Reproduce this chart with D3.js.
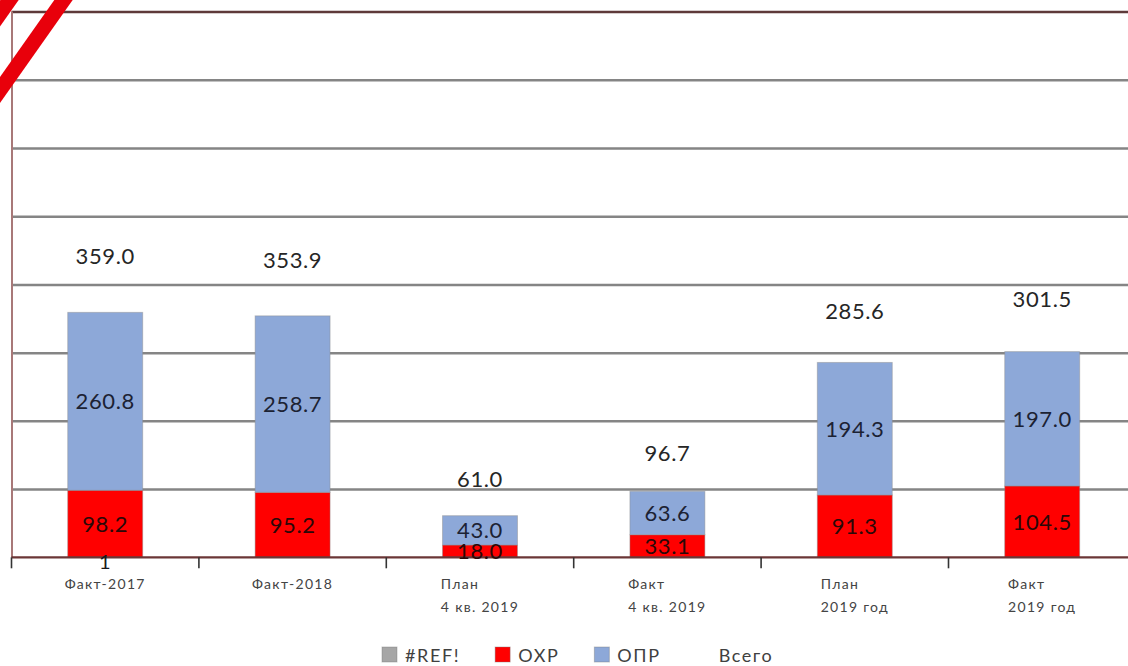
<!DOCTYPE html>
<html><head><meta charset="utf-8">
<script src="https://cdn.jsdelivr.net/npm/d3@7"></script>
<style>
html,body{margin:0;padding:0;background:#fff;}
svg{display:block;}
text{font-family:Lato,"Open Sans",sans-serif;}
</style></head>
<body>
<svg id="chart" width="1128" height="666"></svg>
<script>
const categories = ["Факт-2017", "Факт-2018", "План\n4 кв. 2019", "Факт\n4 кв. 2019", "План\n2019 год", "Факт\n2019 год"];
const oxr = [98.2, 95.2, 18.0, 33.1, 91.3, 104.5];
const opr = [260.8, 258.7, 43.0, 63.6, 194.3, 197.0];
const totals = [359.0, 353.9, 61.0, 96.7, 285.6, 301.5];
const refLabels = ["1", "", "", "", "", ""];
const yTicks = [0, 100, 200, 300, 400, 500, 600, 700, 800];
const legendItems = ["#REF!", "ОХР", "ОПР", "Всего"];
const legendColors = ["#a6a6a6", "#ff0000", "#8da8d8", "none"];

const W = 1128, H = 666;
const svg = d3.select("#chart");

const x = d3.scaleBand().domain(d3.range(categories.length)).range([11.5, 1135.9]).paddingInner(0.6).paddingOuter(0.3);
const y = d3.scaleLinear().domain([0, 800]).range([557.3, 11.5]);

// gridlines
const grid = svg.append("g").attr("transform", "translate(11.5,0)")
  .call(d3.axisLeft(y).tickValues(yTicks.slice(1)).tickSize(-(W - 11.5)).tickFormat(""));
grid.select(".domain").remove();
grid.selectAll(".tick line").attr("stroke", (d) => d === 800 ? "#5e3a3a" : "#858585").attr("stroke-width", 2.5);

// y axis line
svg.append("line").attr("x1", 12).attr("x2", 12).attr("y1", y(800)).attr("y2", y(0))
  .attr("stroke", "#a87878").attr("stroke-width", 2);

// bars
const bars = svg.append("g");
const stackData = categories.map((c, i) => ({i, oxr: oxr[i], opr: opr[i]}));
bars.selectAll("rect.oxr").data(stackData).join("rect").attr("class", "oxr")
  .attr("x", d => x(d.i)).attr("width", x.bandwidth())
  .attr("y", d => y(d.oxr)).attr("height", d => y(0) - y(d.oxr))
  .attr("fill", "#ff0000").attr("stroke", "rgba(140,140,140,0.45)").attr("stroke-width", 1);
bars.selectAll("rect.opr").data(stackData).join("rect").attr("class", "opr")
  .attr("x", d => x(d.i)).attr("width", x.bandwidth())
  .attr("y", d => y(d.oxr + d.opr)).attr("height", d => y(d.oxr) - y(d.oxr + d.opr))
  .attr("fill", "#8da8d8").attr("stroke", "rgba(140,140,140,0.45)").attr("stroke-width", 1);

// x axis line
svg.append("line").attr("x1", 11.5).attr("x2", W).attr("y1", y(0)).attr("y2", y(0))
  .attr("stroke", "#6b3636").attr("stroke-width", 2.2);
// boundary ticks
const step = x.step();
const x0 = x.range()[0];
svg.append("g").selectAll("line").data(d3.range(categories.length + 1)).join("line")
  .attr("x1", k => x0 + k * step).attr("x2", k => x0 + k * step)
  .attr("y1", y(0)).attr("y2", y(0) + 11)
  .attr("stroke", "#333").attr("stroke-width", 1.6);

// category labels
const catG = svg.append("g");
categories.forEach((c, i) => {
  const lines = c.split("\n");
  const cx = x(i) + x.bandwidth() / 2;
  const t = catG.append("text").attr("font-size", 14).attr("fill", "#444").attr("letter-spacing", "1.3px");
  lines.forEach((ln, j) => t.append("tspan").text(ln).attr("y", 589 + j * 23));
  const widths = [];
  t.selectAll("tspan").each(function(){ widths.push(this.getComputedTextLength()); });
  const maxW = d3.max(widths);
  t.selectAll("tspan").attr("x", lines.length > 1 ? cx - maxW / 2 : cx - widths[0] / 2);
});

// segment labels
const lab = svg.append("g").attr("font-size", 22).attr("text-anchor", "middle").attr("letter-spacing", "0.6px");
lab.selectAll("text.l1").data(stackData).join("text").attr("class", "l1")
  .attr("x", d => x(d.i) + x.bandwidth() / 2).attr("y", d => (y(0) + y(d.oxr)) / 2).attr("dy", "0.36em")
  .attr("fill", "#2a0808").text(d => d.oxr.toFixed(1));
lab.selectAll("text.l2").data(stackData).join("text").attr("class", "l2")
  .attr("x", d => x(d.i) + x.bandwidth() / 2).attr("y", d => (y(d.oxr) + y(d.oxr + d.opr)) / 2).attr("dy", "0.36em")
  .attr("fill", "#1c2233").text(d => d.opr.toFixed(1));
lab.selectAll("text.tot").data(totals).join("text").attr("class", "tot")
  .attr("x", (d, i) => x(i) + x.bandwidth() / 2).attr("y", d => y(d * 1.1) - 32).attr("dy", "0.36em")
  .attr("fill", "#262626").text(d => d.toFixed(1));
lab.selectAll("text.ref").data(refLabels).join("text").attr("class", "ref")
  .attr("x", (d, i) => x(i) + x.bandwidth() / 2).attr("y", y(0) + 4).attr("dy", "0.36em")
  .attr("fill", "#1a1a1a").attr("font-size", 20).text(d => d);

// red diagonal stripes
const slope = 90 / 63.5;
const stripes = svg.append("g");
[9.5, 63.5].forEach(xt => {
  stripes.append("line")
    .attr("x1", xt + 30 / slope).attr("y1", -30)
    .attr("x2", xt - 140 / slope).attr("y2", 140)
    .attr("stroke", "#e8000b").attr("stroke-width", 15);
});

// legend
const leg = svg.append("g");
let lx = 382;
legendItems.forEach((name, i) => {
  if (legendColors[i] !== "none") {
    leg.append("rect").attr("x", lx).attr("y", 647).attr("width", 15).attr("height", 15)
      .attr("fill", legendColors[i]).attr("stroke", "rgba(120,120,120,0.4)");
  }
  const t = leg.append("text").attr("x", lx + 23).attr("y", 662).attr("font-size", 18)
    .attr("fill", "#404040").attr("letter-spacing", "1.6px").text(name);
  lx = lx + 23 + t.node().getComputedTextLength() + 35;
});
</script>
</body></html>
